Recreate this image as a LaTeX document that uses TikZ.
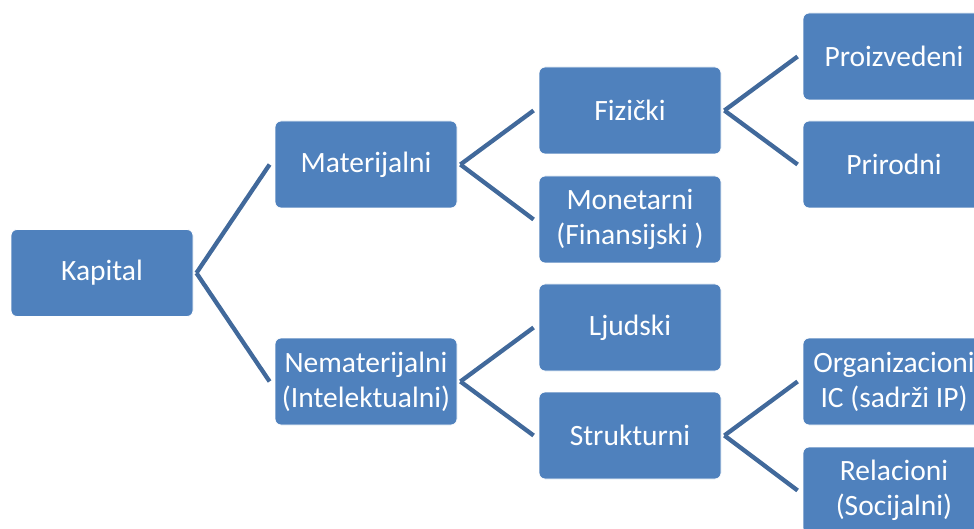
\documentclass[tikz,border=0pt]{standalone}
\usepackage{fontspec}
\setmainfont{Carlito}
\begin{document}
\begin{tikzpicture}[x=1pt,y=-1pt,
  box/.style={draw=white, line width=0.8pt, fill=boxblue, rounded corners=6pt,
    minimum width=182pt, minimum height=87pt, inner sep=0pt,
    text=white, align=center, font=\fontsize{29.5}{35}\selectfont},
  link/.style={draw=linkblue, line width=4.3pt}]
\definecolor{boxblue}{RGB}{79,129,189}
\definecolor{linkblue}{RGB}{65,105,155}
\useasboundingbox (0,0) rectangle (974,529);
\clip (0,0) rectangle (974,529);
% level 0
\node[box] (kap) at (102,273) {Kapital};
% level 1
\node[box] (mat) at (366,164.5) {Materijalni};
\node[box] (nem) at (366,381.5) {Nematerijalni\\(Intelektualni)};
% level 2
\node[box] (fiz) at (630,110.5) {Fizički};
\node[box] (mon) at (630,219.5) {Monetarni\\(Finansijski )};
\node[box] (lju) at (630,327.5) {Ljudski};
\node[box] (str) at (630,435.5) {Strukturni};
% level 3
\node[box] (pro) at (894,56.5) {Proizvedeni};
\node[box] (pri) at (894,164.5) {Prirodni};
\node[box] (org) at (894,381.5) {Organizacioni\\IC (sadrži IP)};
\node[box] (rel) at (894,490.5) {Relacioni\\(Socijalni)};
% connectors
\foreach \p/\c in {kap/mat,kap/nem,mat/fiz,mat/mon,nem/lju,nem/str,fiz/pro,fiz/pri,str/org,str/rel}
  \draw[link] ([xshift=3pt]\p.east) -- ([xshift=-5pt]\c.west);
\end{tikzpicture}
\end{document}
